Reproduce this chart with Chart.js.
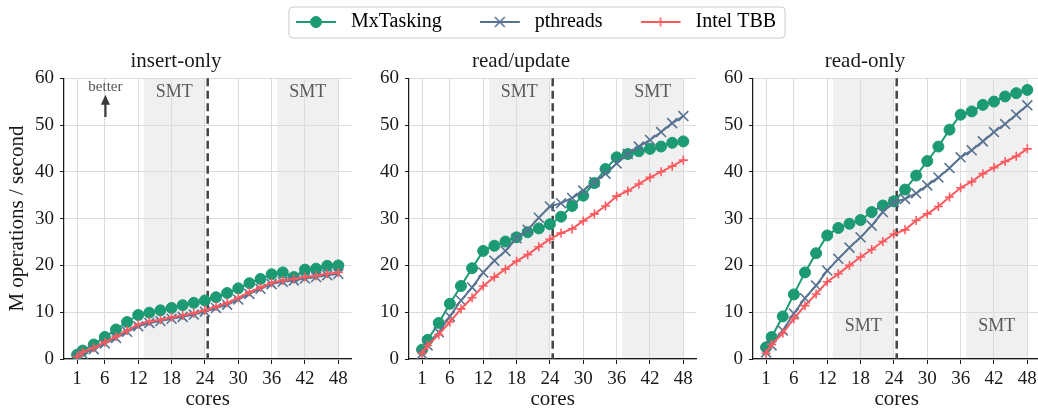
<!DOCTYPE html>
<html>
<head>
<meta charset="utf-8">
<script src="https://cdn.jsdelivr.net/npm/chart.js@4.4.1/dist/chart.umd.min.js"></script>
<style>
  html, body { margin: 0; padding: 0; background: #fff; overflow: hidden; }
  body { width: 1038px; height: 410px; position: relative; }
  canvas { position: absolute; }
  #legendChart { left: 0; top: -26px; }
  #insertChart { left: 0; top: 40px; }
  #updateChart { left: 345px; top: 40px; }
  #readChart { left: 689px; top: 40px; }
</style>
</head>
<body>
<canvas id="legendChart" width="1038" height="220"></canvas>
<canvas id="insertChart" width="360" height="372"></canvas>
<canvas id="updateChart" width="360" height="372"></canvas>
<canvas id="readChart" width="360" height="372"></canvas>
<script>
const cores = [1, 2, 4, 6, 8, 10, 12, 14, 16, 18, 20, 22, 24, 26, 28, 30, 32, 34, 36, 38, 40, 42, 44, 46, 48];
const xTicks = [1, 6, 12, 18, 24, 30, 36, 42, 48];
const seriesNames = ['MxTasking', 'pthreads', 'Intel TBB'];
const panelTitles = ['insert-only', 'read/update', 'read-only'];

// M operations / second per core count
const insertMx = [0.9, 1.8, 3.1, 4.7, 6.3, 7.9, 9.4, 9.9, 10.4, 10.9, 11.5, 12.0, 12.5, 13.2, 14.1, 15.1, 16.2, 17.1, 18.1, 18.5, 17.5, 19.1, 19.3, 19.9, 20.0];
const insertPthreads = [0.3, 1.1, 2.1, 3.3, 4.5, 5.8, 7.0, 7.7, 8.1, 8.6, 9.0, 9.5, 10.1, 10.9, 11.6, 12.7, 13.9, 15.0, 16.0, 16.5, 16.8, 17.2, 17.5, 17.9, 18.2];
const insertTbb = [0.5, 1.5, 2.4, 3.6, 4.8, 6.1, 7.4, 8.0, 8.4, 8.9, 9.3, 9.8, 10.4, 11.2, 12.0, 13.1, 14.3, 15.3, 16.3, 16.8, 17.1, 17.5, 17.8, 18.2, 18.5];

const updateMx = [2.0, 4.1, 7.7, 11.8, 15.6, 19.4, 23.1, 24.2, 25.1, 26.0, 27.1, 27.9, 28.8, 30.4, 32.7, 34.9, 37.6, 40.6, 43.1, 43.8, 44.4, 44.9, 45.4, 46.2, 46.5];
const updatePthreads = [1.1, 2.9, 5.7, 9.1, 12.5, 15.3, 18.5, 21.0, 23.1, 25.8, 27.6, 30.2, 32.6, 33.3, 34.4, 36.0, 37.8, 39.6, 41.8, 43.8, 45.4, 46.8, 48.5, 50.4, 51.9];
const updateTbb = [1.2, 2.9, 5.2, 7.9, 10.7, 13.1, 15.6, 17.5, 19.2, 20.9, 22.3, 24.0, 25.6, 26.9, 27.8, 29.5, 31.0, 32.7, 34.8, 35.9, 37.4, 38.8, 40.0, 41.2, 42.5];

const readMx = [2.5, 4.7, 9.1, 13.8, 18.5, 22.6, 26.4, 28.0, 28.9, 29.7, 31.4, 32.8, 33.7, 36.2, 39.2, 42.3, 45.4, 49.0, 52.2, 52.9, 54.3, 55.0, 56.1, 56.8, 57.5];
const readPthreads = [1.4, 2.9, 6.1, 9.7, 13.0, 15.7, 18.9, 21.4, 23.8, 26.0, 28.5, 31.4, 33.5, 34.2, 35.4, 37.1, 38.8, 40.8, 43.1, 44.6, 46.5, 48.5, 50.2, 52.2, 54.2];
const readTbb = [1.2, 3.1, 5.5, 8.6, 11.4, 13.9, 16.5, 18.2, 20.0, 21.8, 23.4, 25.1, 26.7, 27.6, 29.6, 31.0, 32.6, 34.6, 36.6, 37.9, 39.6, 40.9, 42.2, 43.3, 44.9];

// hyperthreaded core ranges and the socket boundary
const smtRanges = [[13, 24], [37, 48]];
const socketSplit = 24.5;

const serif = "'Liberation Serif', 'Times New Roman', serif";
const ink = '#1a1a1a';

const seriesStyles = [
  { color: '#1b9a73', pointStyle: 'circle', pointRadius: 5.5, pointBorderWidth: 1, order: 2 },
  { color: '#587391', pointStyle: 'crossRot', pointRadius: 7, pointBorderWidth: 1.6, order: 1 },
  { color: '#fb5a5f', pointStyle: 'cross', pointRadius: 4.5, pointBorderWidth: 1.6, order: 0 }
];

Chart.defaults.font.family = serif;

const panelDecor = {
  id: 'panelDecor',
  beforeDraw(chart) {
    const { ctx, chartArea: area, scales: { x } } = chart;
    ctx.save();
    ctx.fillStyle = '#f0f0f0';
    smtRanges.forEach(([lo, hi]) => {
      const left = x.getPixelForValue(lo);
      const right = x.getPixelForValue(hi);
      ctx.fillRect(left, area.top, right - left, area.bottom - area.top);
    });
    ctx.restore();
  },
  beforeDatasetsDraw(chart, args, opts) {
    const { ctx, chartArea: area, scales: { x, y } } = chart;
    ctx.save();

    // SMT labels
    ctx.fillStyle = '#595959';
    ctx.font = `18px ${serif}`;
    ctx.textAlign = 'center';
    ctx.textBaseline = 'middle';
    smtRanges.forEach(([lo, hi]) => {
      ctx.fillText('SMT', x.getPixelForValue((lo + hi) / 2), y.getPixelForValue(opts.smtY));
    });

    // socket boundary
    const sx = x.getPixelForValue(socketSplit);
    ctx.strokeStyle = '#444';
    ctx.lineWidth = 2.5;
    ctx.setLineDash([8, 4.5]);
    ctx.beginPath();
    ctx.moveTo(sx, area.top);
    ctx.lineTo(sx, area.bottom);
    ctx.stroke();
    ctx.setLineDash([]);

    if (opts.better) {
      const ax = x.getPixelForValue(6.1);
      const base = y.getPixelForValue(51.7);
      const tip = y.getPixelForValue(56.45);
      ctx.strokeStyle = '#3a3a3a';
      ctx.fillStyle = '#3a3a3a';
      ctx.lineWidth = 2.2;
      ctx.beginPath();
      ctx.moveTo(ax, base);
      ctx.lineTo(ax, tip + 8);
      ctx.stroke();
      ctx.beginPath();
      ctx.moveTo(ax, tip);
      ctx.lineTo(ax - 4.5, tip + 10);
      ctx.lineTo(ax + 4.5, tip + 10);
      ctx.closePath();
      ctx.fill();

      ctx.fillStyle = '#555';
      ctx.font = `15px ${serif}`;
      ctx.fillText('better', ax, y.getPixelForValue(58.2));
    }
    ctx.restore();
  }
};

function seriesData(values) {
  return cores.map((c, i) => ({ x: c, y: values[i] }));
}

function panelChart(id, title, series, decor, showYTitle) {
  const tickFont = { family: serif, size: 19 };
  const labelFont = { family: serif, size: 21 };
  return new Chart(document.getElementById(id), {
    type: 'line',
    data: {
      datasets: series.map((values, i) => ({
        label: seriesNames[i],
        data: seriesData(values),
        borderColor: seriesStyles[i].color,
        backgroundColor: seriesStyles[i].color,
        borderWidth: 2,
        pointStyle: seriesStyles[i].pointStyle,
        pointRadius: seriesStyles[i].pointRadius,
        pointBorderWidth: seriesStyles[i].pointBorderWidth,
        pointBorderColor: seriesStyles[i].color,
        pointBackgroundColor: seriesStyles[i].color,
        tension: 0,
        order: seriesStyles[i].order
      }))
    },
    options: {
      responsive: false,
      animation: false,
      events: [],
      layout: { padding: { top: 0, right: 8, bottom: 0, left: 0 } },
      scales: {
        x: {
          type: 'linear',
          min: -1.35,
          max: 50.35,
          afterBuildTicks: (scale) => { scale.ticks = xTicks.map((v) => ({ value: v })); },
          afterFit: (scale) => { scale.height = 53; },
          grid: { color: '#dcdcdc', lineWidth: 1, tickColor: ink, tickLength: 5 },
          border: { color: ink, width: 1.25 },
          ticks: { color: ink, font: tickFont, padding: 4, maxRotation: 0, autoSkip: false },
          title: { display: true, text: 'cores', color: ink, font: labelFont, padding: 0 }
        },
        y: {
          min: 0,
          max: 60,
          afterFit: (scale) => { scale.width = 64; },
          grid: { color: '#dcdcdc', lineWidth: 1, tickColor: ink, tickLength: 4 },
          border: { color: ink, width: 1.25 },
          ticks: { stepSize: 10, color: ink, font: tickFont, padding: 6 },
          title: { display: showYTitle, text: 'M operations / second', color: ink, font: labelFont, padding: { top: 5, bottom: 0 } }
        }
      },
      plugins: {
        legend: { display: false },
        tooltip: { enabled: false },
        title: {
          display: true,
          text: title,
          color: ink,
          font: { family: serif, size: 21, weight: 'normal' },
          padding: { top: 9, bottom: 4 }
        },
        panelDecor: decor
      }
    },
    plugins: [panelDecor]
  });
}

// legend handle: short line with the series marker in the middle
function legendHandle(style) {
  const c = document.createElement('canvas');
  c.width = 45;
  c.height = 20;
  const ctx = c.getContext('2d');
  ctx.strokeStyle = style.color;
  ctx.fillStyle = style.color;
  ctx.lineWidth = 2;
  ctx.beginPath();
  ctx.moveTo(0, 10);
  ctx.lineTo(40, 10);
  ctx.stroke();
  ctx.lineWidth = style.pointBorderWidth;
  Chart.helpers.drawPoint(ctx, {
    pointStyle: style.pointStyle,
    radius: style.pointRadius,
    rotation: 0,
    borderWidth: style.pointBorderWidth
  }, 20, 10);
  return c;
}

const legendFrame = {
  id: 'legendFrame',
  beforeDraw(chart) {
    const boxes = chart.legend && chart.legend.legendHitBoxes;
    if (!boxes || !boxes.length) return;
    const first = boxes[0];
    const last = boxes[boxes.length - 1];
    const left = first.left - 7.5;
    const right = last.left + last.width + 8.5;
    const top = first.top - 5.5;
    const bottom = first.top + first.height + 5.5;
    const { ctx } = chart;
    ctx.save();
    ctx.fillStyle = 'rgba(255,255,255,0.8)';
    ctx.strokeStyle = '#cccccc';
    ctx.lineWidth = 1;
    ctx.beginPath();
    ctx.roundRect(left + 0.5, top + 0.5, right - left, bottom - top, 4);
    ctx.fill();
    ctx.stroke();
    ctx.restore();
  }
};

new Chart(document.getElementById('legendChart'), {
  type: 'line',
  data: {
    datasets: seriesNames.map((name, i) => ({ label: name, data: [], borderColor: seriesStyles[i].color }))
  },
  options: {
    responsive: false,
    animation: false,
    events: [],
    layout: { padding: { left: 34 } },
    scales: { x: { display: false }, y: { display: false } },
    plugins: {
      tooltip: { enabled: false },
      legend: {
        display: true,
        position: 'top',
        labels: {
          usePointStyle: true,
          pointStyleWidth: 45,
          padding: 38,
          color: ink,
          font: { family: serif, size: 20 },
          generateLabels: (chart) => chart.data.datasets.map((ds, i) => ({
            text: ds.label,
            pointStyle: legendHandle(seriesStyles[i]),
            fillStyle: seriesStyles[i].color,
            strokeStyle: seriesStyles[i].color,
            lineWidth: 0,
            hidden: false,
            datasetIndex: i
          }))
        }
      }
    }
  },
  plugins: [legendFrame]
});

panelChart('insertChart', panelTitles[0], [insertMx, insertPthreads, insertTbb], { smtY: 57, better: true }, true);
panelChart('updateChart', panelTitles[1], [updateMx, updatePthreads, updateTbb], { smtY: 57, better: false }, false);
panelChart('readChart', panelTitles[2], [readMx, readPthreads, readTbb], { smtY: 7, better: false }, false);
</script>
</body>
</html>
